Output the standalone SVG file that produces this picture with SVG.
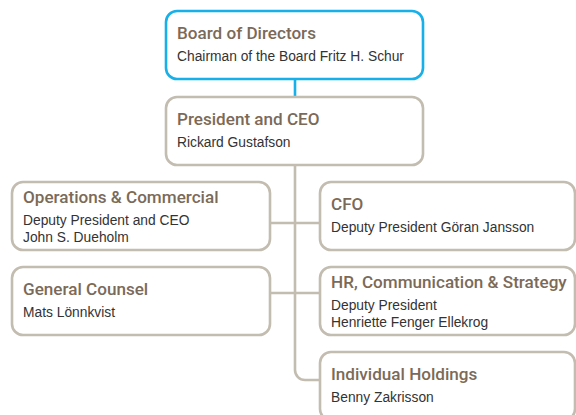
<svg xmlns="http://www.w3.org/2000/svg" width="576" height="415" viewBox="0 0 576 415">
<style>
.box{fill:#fff;stroke:#c3bcb0;stroke-width:2.6}
.top{fill:#fff;stroke:#17b0e8;stroke-width:2.6}
.t{font-family:Roboto,"Liberation Sans",Arial,sans-serif;font-size:17.1px;font-weight:500;fill:#7b6a58}
.s{font-family:"Liberation Sans",Arial,sans-serif;font-size:13.8px;fill:#333}
.c{fill:none;stroke:#c3bcb0;stroke-width:2.6}
</style>
<rect width="576" height="415" fill="#fff"/>
<g id="connectors">
<line x1="295" y1="80" x2="295" y2="97" stroke="#17b0e8" stroke-width="2.6"/>
<path class="c" d="M295,165 V370 A10,10 0 0 0 305,380 H320"/>
<line class="c" x1="270" y1="223" x2="320" y2="223"/>
<line class="c" x1="270" y1="293" x2="320" y2="293"/>
</g>
<g id="board">
<rect class="top" x="166" y="11" width="257" height="68" rx="11"/>
<text class="t" x="177" y="39">Board of Directors</text>
<text class="s" x="177" y="61">Chairman of the Board Fritz H. Schur</text>
</g>
<g id="president">
<rect class="box" x="166" y="97" width="257" height="68" rx="11"/>
<text class="t" x="177" y="125">President and CEO</text>
<text class="s" x="177" y="147">Rickard Gustafson</text>
</g>
<g id="operations">
<rect class="box" x="12" y="182" width="258" height="68" rx="11"/>
<text class="t" x="23" y="203">Operations &amp; Commercial</text>
<text class="s" x="23" y="225">Deputy President and CEO</text>
<text class="s" x="23" y="242">John S. Dueholm</text>
</g>
<g id="counsel">
<rect class="box" x="12" y="267" width="258" height="68" rx="11"/>
<text class="t" x="23" y="295">General Counsel</text>
<text class="s" x="23" y="317">Mats Lönnkvist</text>
</g>
<g id="cfo">
<rect class="box" x="320" y="182" width="255" height="68" rx="11"/>
<text class="t" x="331" y="210">CFO</text>
<text class="s" x="331" y="232">Deputy President Göran Jansson</text>
</g>
<g id="hr">
<rect class="box" x="320" y="267" width="255" height="68" rx="11"/>
<text class="t" x="331" y="288">HR, Communication &amp; Strategy</text>
<text class="s" x="331" y="310">Deputy President</text>
<text class="s" x="331" y="327">Henriette Fenger Ellekrog</text>
</g>
<g id="holdings">
<rect class="box" x="320" y="352" width="255" height="68" rx="11"/>
<text class="t" x="331" y="380">Individual Holdings</text>
<text class="s" x="331" y="402">Benny Zakrisson</text>
</g>
</svg>
